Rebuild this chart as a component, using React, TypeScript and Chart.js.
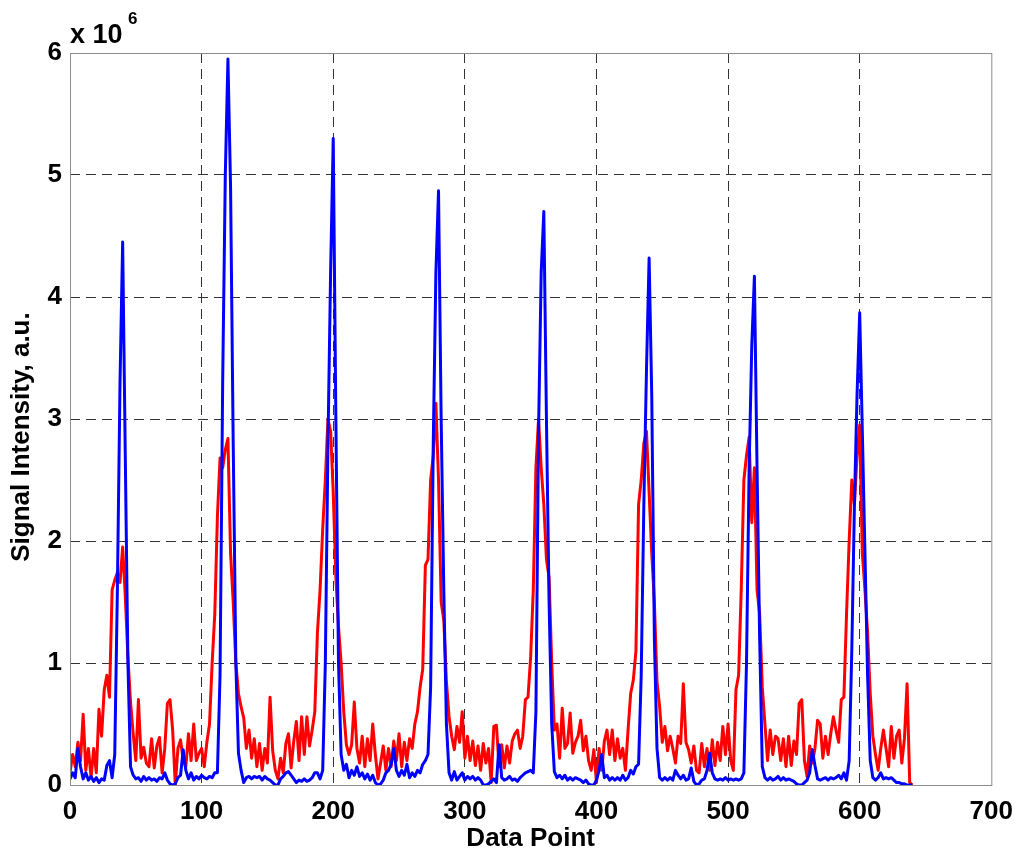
import React, { useEffect, useRef } from 'react';
import { Chart, registerables } from 'chart.js';

Chart.register(...registerables);

// signal intensity in units of 1e6, sampled every 2 data points (0..640)
const redSignal = [
  0.1, 0.25, 0.15, 0.35, 0.2, 0.58, 0.12, 0.3, 0.06, 0.3,
  0.1, 0.62, 0.4, 0.78, 0.9, 0.72, 1.6, 1.68, 1.74, 1.66,
  1.95, 1.55, 1.05, 0.68, 0.42, 0.2, 0.7, 0.22, 0.31, 0.18,
  0.15, 0.38, 0.14, 0.32, 0.39, 0.1, 0.3, 0.67, 0.7, 0.45,
  0.0, 0.3, 0.37, 0.2, 0.15, 0.42, 0.2, 0.5, 0.2, 0.26,
  0.3, 0.15, 0.35, 0.5, 1.0, 1.4, 2.2, 2.68, 2.6, 2.75,
  2.84, 1.9, 1.5, 1.0, 0.75, 0.64, 0.55, 0.3, 0.45, 0.22,
  0.38, 0.15, 0.34, 0.12, 0.3, 0.18, 0.72, 0.28, 0.12, 0.05,
  0.22, 0.1, 0.34, 0.42, 0.14, 0.36, 0.52, 0.2, 0.56, 0.25,
  0.56, 0.32, 0.45, 0.6, 1.25, 1.6, 2.1, 2.5, 3.0, 2.9,
  2.4, 1.7, 1.3, 1.0, 0.6, 0.33, 0.25, 0.33, 0.68, 0.3,
  0.18, 0.4, 0.15, 0.38, 0.2, 0.5, 0.25, 0.05, 0.18, 0.32,
  0.12, 0.3, 0.15, 0.36, 0.2, 0.42, 0.15, 0.35, 0.2, 0.38,
  0.3, 0.5, 0.6, 0.8, 0.95, 1.8, 1.85, 2.5, 2.7, 3.13,
  2.5, 1.5, 1.35, 0.85, 0.56, 0.4, 0.29, 0.48, 0.35, 0.6,
  0.22, 0.4, 0.2, 0.36, 0.16, 0.32, 0.12, 0.34, 0.18, 0.3,
  0.02, 0.48, 0.49, 0.15, 0.33, 0.14, 0.32, 0.18, 0.36, 0.42,
  0.45, 0.3, 0.4, 0.7, 0.72, 1.05, 1.6, 2.6, 3.0, 2.6,
  2.3, 1.85, 1.7, 1.0, 0.45, 0.5, 0.22, 0.63, 0.3, 0.34,
  0.59, 0.26, 0.35, 0.4, 0.53, 0.28, 0.4, 0.2, 0.12, 0.29,
  0.02, 0.3, 0.12, 0.36, 0.45, 0.25, 0.45, 0.2, 0.38, 0.22,
  0.3, 0.12, 0.45, 0.75, 0.86, 1.1, 2.3, 2.5, 2.8, 2.9,
  2.4, 1.9, 1.5, 0.85, 0.64, 0.35, 0.48, 0.28, 0.4, 0.3,
  0.18, 0.4, 0.34, 0.83, 0.35, 0.29, 0.18, 0.32, 0.12, 0.1,
  0.34, 0.15, 0.3, 0.12, 0.37, 0.16, 0.35, 0.2, 0.48, 0.25,
  0.5, 0.2, 0.12, 0.78, 0.9, 1.6, 2.5, 2.7, 2.85, 2.15,
  2.6, 1.6, 1.4, 0.8, 0.5, 0.2, 0.45, 0.25, 0.4, 0.38,
  0.2, 0.38, 0.15, 0.4, 0.16, 0.36, 0.25, 0.67, 0.7, 0.2,
  0.07, 0.32, 0.18, 0.3, 0.53, 0.5, 0.22, 0.4, 0.25, 0.42,
  0.56, 0.45, 0.35, 0.7, 0.72, 1.4, 2.0, 2.5, 2.3, 2.7,
  2.95, 1.9, 1.6, 1.25, 0.75, 0.4, 0.25, 0.12, 0.3, 0.45,
  0.3, 0.15, 0.48, 0.22, 0.4, 0.45, 0.18, 0.38, 0.83, 0.02,
  0.0,
];

const blueSignal = [
  0.05, 0.1, 0.06, 0.3, 0.15, 0.05, 0.1, 0.04, 0.07, 0.03,
  0.06, 0.02, 0.05, 0.04, 0.16, 0.2, 0.06, 0.25, 1.6, 3.3,
  4.45, 2.7, 1.0, 0.15, 0.08, 0.05, 0.06, 0.03, 0.07, 0.04,
  0.06, 0.04, 0.05, 0.03, 0.06, 0.05, 0.1, 0.04, 0.01, 0.0,
  0.01, 0.06, 0.08, 0.29, 0.12, 0.05, 0.1, 0.04, 0.07, 0.05,
  0.08, 0.06, 0.05, 0.07, 0.06, 0.1, 0.1, 0.9, 3.3, 5.0,
  5.95, 4.9, 2.8, 1.0, 0.26, 0.12, 0.02, 0.06, 0.07, 0.05,
  0.07, 0.06, 0.07, 0.04, 0.07, 0.05, 0.04, 0.02, 0.0, 0.0,
  0.05, 0.07, 0.1, 0.11, 0.08, 0.05, 0.02, 0.04, 0.03, 0.05,
  0.03, 0.04, 0.06, 0.1, 0.1, 0.05, 0.12, 1.0, 2.8, 4.2,
  5.3, 3.0, 1.0, 0.25, 0.12, 0.17, 0.06, 0.12, 0.08, 0.15,
  0.07, 0.1, 0.05, 0.09, 0.04, 0.08, 0.02, 0.0, 0.01, 0.04,
  0.1, 0.12, 0.17, 0.3, 0.12, 0.07, 0.12, 0.08, 0.17, 0.06,
  0.1, 0.07, 0.12, 0.1, 0.17, 0.2, 0.25, 0.8, 2.8, 4.2,
  4.87, 3.0, 1.6, 0.5, 0.1, 0.04, 0.11, 0.04, 0.07, 0.1,
  0.04, 0.07, 0.05, 0.07, 0.04, 0.06, 0.04, 0.0, 0.0, 0.01,
  0.03, 0.05, 0.02, 0.33, 0.06, 0.04, 0.05, 0.07, 0.04, 0.05,
  0.03, 0.06, 0.08, 0.1, 0.11, 0.12, 0.1, 0.6, 2.9, 4.2,
  4.7, 3.0, 1.5, 0.5, 0.11, 0.06, 0.08, 0.05, 0.08, 0.04,
  0.06, 0.04, 0.06, 0.05, 0.04, 0.02, 0.04, 0.01, 0.0, 0.0,
  0.04, 0.12, 0.25, 0.06, 0.08, 0.04, 0.06, 0.04, 0.06, 0.04,
  0.08, 0.04, 0.06, 0.12, 0.09, 0.15, 0.17, 0.9, 2.3, 3.4,
  4.32, 3.2, 1.2, 0.3, 0.06, 0.04, 0.06, 0.04, 0.06, 0.04,
  0.12, 0.08, 0.05, 0.08, 0.04, 0.05, 0.14, 0.03, 0.0, 0.01,
  0.04, 0.05, 0.12, 0.26, 0.1, 0.05, 0.04, 0.05, 0.04, 0.06,
  0.04, 0.05, 0.04, 0.05, 0.04, 0.05, 0.1, 1.0, 2.6, 3.6,
  4.17, 2.6, 1.2, 0.15, 0.06, 0.04, 0.06, 0.04, 0.05, 0.07,
  0.04, 0.06, 0.04, 0.05, 0.04, 0.03, 0.01, 0.0, 0.0, 0.02,
  0.04, 0.1, 0.29, 0.16, 0.05, 0.04, 0.05, 0.06, 0.04, 0.06,
  0.05, 0.06, 0.08, 0.05, 0.1, 0.04, 0.2, 1.1, 2.3, 3.2,
  3.87, 2.9, 1.9, 0.9, 0.2, 0.06, 0.04, 0.06, 0.1, 0.05,
  0.06, 0.05, 0.06, 0.04, 0.02, 0.02, 0.01, 0.01, 0.0, 0.0,
  0.0,
];

const sampleStep = 2;
const dataPoint = redSignal.map((_, i) => i * sampleStep);

const xTicks = [0, 100, 200, 300, 400, 500, 600, 700];
const yTicks = [0, 1, 2, 3, 4, 5, 6];

const FONT = "'Liberation Sans', Arial, sans-serif";
const BOX = '#8c8c8c';
const GRID = '#333333';

const matlabFrame = {
  id: 'matlabFrame',
  afterDraw(chart: any) {
    const { ctx, chartArea } = chart;
    ctx.save();
    ctx.strokeStyle = BOX;
    ctx.lineWidth = 1;
    ctx.strokeRect(chartArea.left + 0.5, chartArea.top + 0.5, chartArea.right - chartArea.left, chartArea.bottom - chartArea.top);
    ctx.fillStyle = '#000';
    // exponent label
    ctx.textBaseline = 'alphabetic';
    ctx.textAlign = 'left';
    ctx.font = `bold 27px ${FONT}`;
    ctx.fillText('x 10', chartArea.left, 43);
    ctx.font = `bold 17px ${FONT}`;
    ctx.fillText('6', chartArea.left + 58, 24);
    // y axis title
    ctx.translate(22, 437);
    ctx.rotate(-Math.PI / 2);
    ctx.textAlign = 'center';
    ctx.textBaseline = 'middle';
    ctx.font = `bold 26px ${FONT}`;
    ctx.fillText('Signal Intensity, a.u.', 0, 0);
    ctx.restore();
  },
};

const edgeGrid = (ctx: any, max: number) =>
  ctx.tick && (ctx.tick.value === 0 || ctx.tick.value === max) ? 'rgba(0,0,0,0)' : GRID;

const App: React.FC = () => {
  const canvasRef = useRef<HTMLCanvasElement>(null);
  const chartRef = useRef<any>(null);

  useEffect(() => {
    if (chartRef.current) chartRef.current.destroy();
    if (!canvasRef.current) return;

    chartRef.current = new Chart(canvasRef.current, {
      type: 'line',
      data: {
        datasets: [
          {
            label: 'blue',
            data: dataPoint.map((x, i) => ({ x, y: blueSignal[i] })),
            borderColor: '#0000ff',
            borderWidth: 3,
            pointRadius: 0,
            tension: 0,
          },
          {
            label: 'red',
            data: dataPoint.map((x, i) => ({ x, y: redSignal[i] })),
            borderColor: '#ff0000',
            borderWidth: 3,
            pointRadius: 0,
            tension: 0,
          },
        ],
      },
      options: {
        responsive: false,
        animation: false,
        layout: { padding: { left: 0, top: 53, right: 27, bottom: 0 } },
        plugins: {
          legend: { display: false },
          tooltip: { enabled: false },
        },
        scales: {
          x: {
            type: 'linear',
            min: 0,
            max: 700,
            afterFit: (scale: any) => { scale.height = 74; },
            afterBuildTicks: (scale: any) => { scale.ticks = xTicks.map(v => ({ value: v })); },
            border: { display: false, dash: [10, 6] },
            grid: {
              drawTicks: false,
              color: (ctx: any) => edgeGrid(ctx, 700),
              lineWidth: 1,
            },
            ticks: {
              padding: 11,
              color: '#000',
              font: { family: FONT, size: 26, weight: 'bold' },
              maxRotation: 0,
            },
            title: {
              display: true,
              text: 'Data Point',
              color: '#000',
              font: { family: FONT, size: 26, weight: 'bold' },
              padding: { top: 0, bottom: 5 },
            },
          },
          y: {
            min: 0,
            max: 6,
            afterFit: (scale: any) => { scale.width = 70; },
            afterBuildTicks: (scale: any) => { scale.ticks = yTicks.map(v => ({ value: v })); },
            border: { display: false, dash: [10, 6] },
            grid: {
              drawTicks: false,
              color: (ctx: any) => edgeGrid(ctx, 6),
              lineWidth: 1,
            },
            ticks: {
              padding: 8,
              color: '#000',
              font: { family: FONT, size: 26, weight: 'bold' },
            },
          },
        },
        elements: { line: { borderJoinStyle: 'round' } },
      } as any,
      plugins: [matlabFrame],
    });

    return () => {
      if (chartRef.current) {
        chartRef.current.destroy();
        chartRef.current = null;
      }
    };
  }, []);

  return (
    <div style={{ position: 'absolute', left: 0, top: 0, width: 1024, height: 859, background: '#fff' }}>
      <canvas ref={canvasRef} width={1024} height={859} />
    </div>
  );
};

export default App;
